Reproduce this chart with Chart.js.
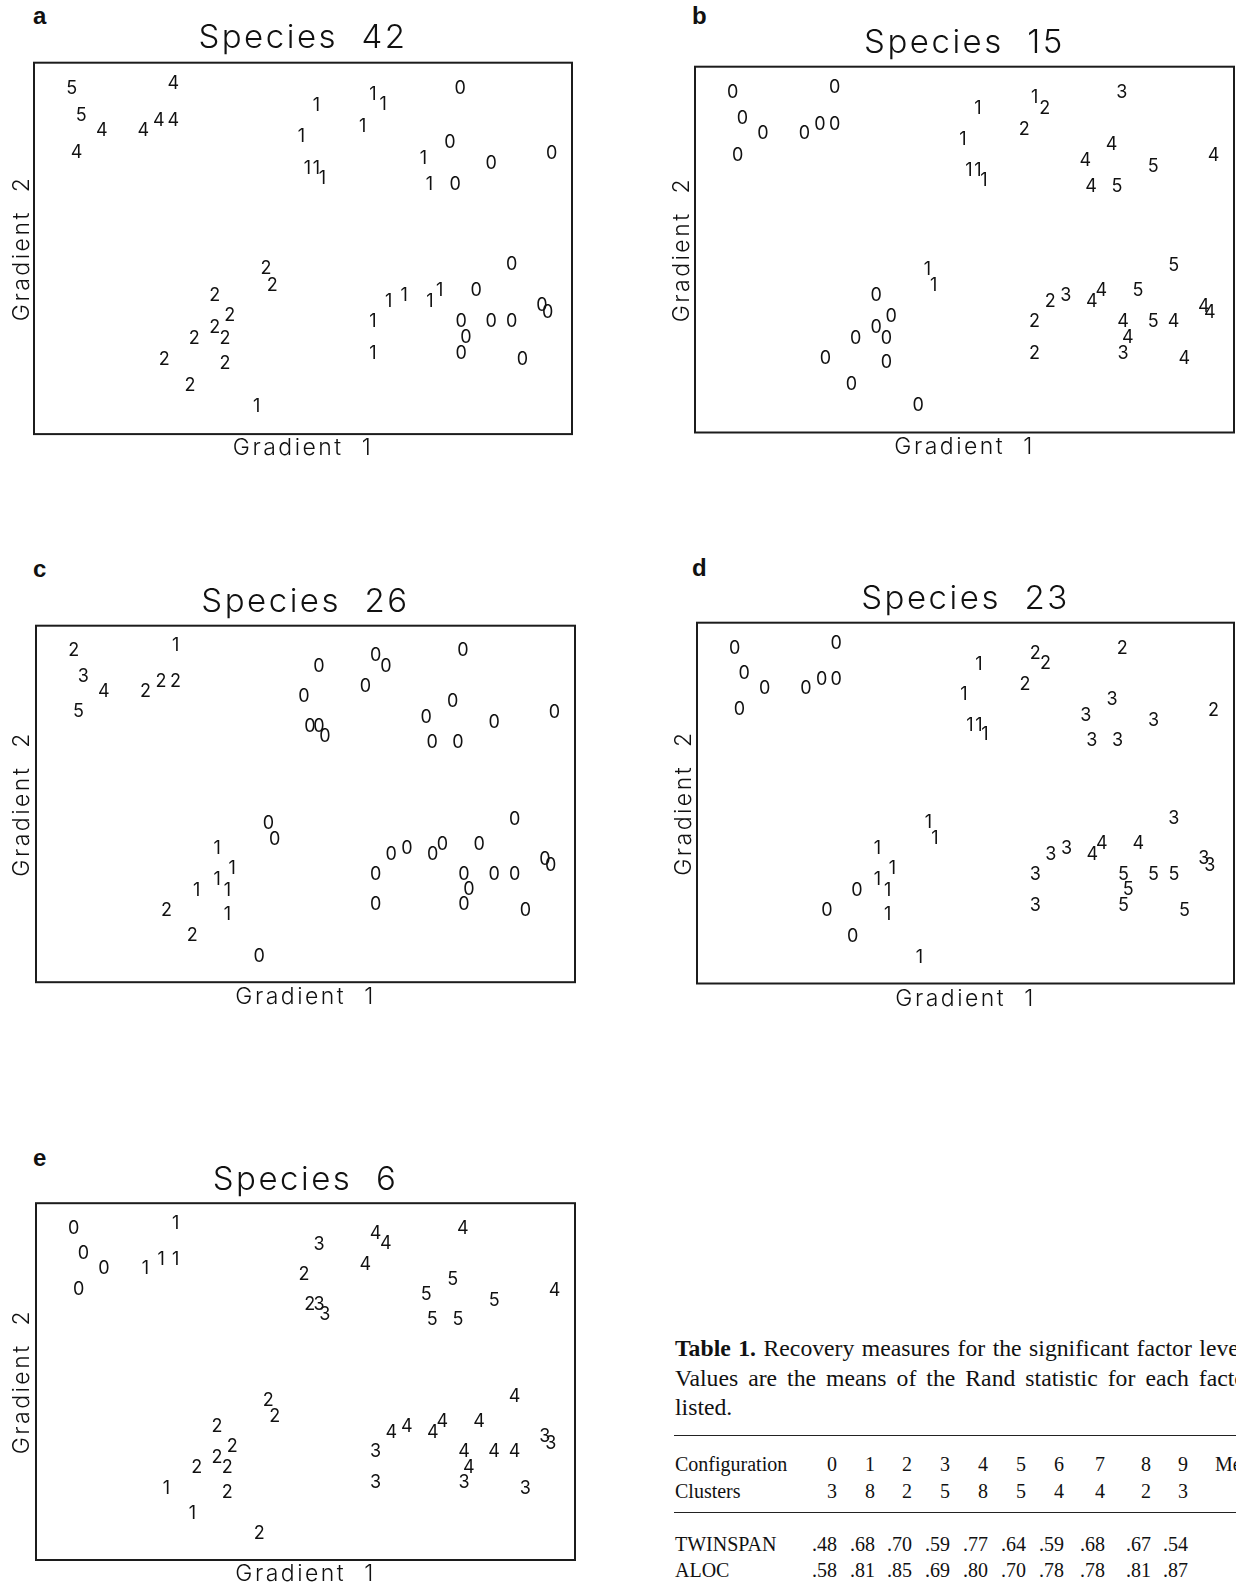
<!DOCTYPE html>
<html>
<head>
<meta charset="utf-8">
<script src="https://cdn.jsdelivr.net/npm/chart.js@4.4.1/dist/chart.umd.min.js"></script>
<style>
  html, body { margin: 0; padding: 0; width: 1236px; height: 1588px; overflow: hidden; background: #fff; }
  .panel { position: absolute; }
  .tag { position: absolute; font: bold 24px "Liberation Sans", Arial, sans-serif; line-height: 24px; color: #111; }
  .cap { position: absolute; left: 675px; white-space: nowrap; font: 23.7px "Liberation Serif", "Times New Roman", serif; line-height: 24px; color: #111; }
  .cell { position: absolute; white-space: nowrap; font: 20px "Liberation Serif", "Times New Roman", serif; line-height: 22px; color: #111; }
  .rule { position: absolute; left: 674px; width: 620px; height: 0; border-top: 1.6px solid #222; }
</style>
</head>
<body>

<div class="tag" style="left:33px; top:4px">a</div>
<div class="tag" style="left:692px; top:4px">b</div>
<div class="tag" style="left:33px; top:557px">c</div>
<div class="tag" style="left:692px; top:556px">d</div>
<div class="tag" style="left:33px; top:1146px">e</div>

<div id="wrapA" class="panel"><canvas id="chartA"></canvas></div>
<div id="wrapB" class="panel"><canvas id="chartB"></canvas></div>
<div id="wrapC" class="panel"><canvas id="chartC"></canvas></div>
<div id="wrapD" class="panel"><canvas id="chartD"></canvas></div>
<div id="wrapE" class="panel"><canvas id="chartE"></canvas></div>

<div class="cap" style="top:1336px; word-spacing:1.6px"><b>Table 1.</b> Recovery measures for the significant factor levels.</div>
<div class="cap" style="top:1366px; word-spacing:4.1px">Values are the means of the Rand statistic for each factor</div>
<div class="cap" style="top:1395px">listed.</div>
<div class="rule" style="top:1435px"></div>
<div class="rule" style="top:1512px"></div>
<div id="table"></div>

<script>
// site positions on the two gradients (same configuration in every panel)
const siteX = [7.0, 8.8, 12.6, 7.9, 25.9, 20.3, 23.2, 25.9,
  52.5, 49.7, 50.8, 52.5, 53.6, 61.1, 63.0, 64.9,
  79.2, 77.3, 72.4, 85.0, 96.2, 73.5, 78.3,
  43.1, 44.3, 33.6, 36.4, 33.6, 35.5, 29.8, 24.2, 35.5, 29.0, 41.4,
  65.9, 68.8, 73.6, 75.4, 82.2, 88.8, 94.4, 95.5, 63.0, 79.4, 80.3, 85.0, 88.8, 63.0, 79.4, 90.8];
const siteY = [92.9, 85.8, 81.6, 75.8, 94.3, 81.6, 84.3, 84.3,
  88.5, 80.1, 71.6, 71.6, 68.9, 82.8, 91.5, 88.6,
  92.9, 78.6, 74.3, 72.8, 75.6, 67.3, 67.3,
  44.6, 40.1, 37.4, 31.8, 28.8, 25.8, 25.8, 20.1, 19.0, 13.0, 7.3,
  35.8, 37.4, 35.8, 38.7, 38.7, 45.7, 34.5, 32.7, 30.3, 30.3, 26.0, 30.3, 30.3, 21.7, 21.7, 20.1];

// abundance class of each species at each site
const species42 = [5,5,4,4,4,4,4,4, 1,1,1,1,1,1,1,1, 0,0,1,0,0,1,0,
  2,2,2,2,2,2,2,2,2,2,1, 1,1,1,1,0,0,0,0,1,0,0,0,0,1,0,0];
const species15 = [0,0,0,0,0,0,0,0, 1,1,1,1,1,2,1,2, 3,4,4,5,4,4,5,
  1,1,0,0,0,0,0,0,0,0,0, 2,3,4,4,5,5,4,4,2,4,4,5,4,2,3,4];
const species26 = [2,3,4,5,1,2,2,2, 0,0,0,0,0,0,0,0, 0,0,0,0,0,0,0,
  0,0,1,1,1,1,1,2,1,2,0, 0,0,0,0,0,0,0,0,0,0,0,0,0,0,0,0];
const species23 = [0,0,0,0,0,0,0,0, 1,1,1,1,1,2,2,2, 2,3,3,3,2,3,3,
  1,1,1,1,1,1,0,0,1,0,1, 3,3,4,4,4,3,3,3,3,5,5,5,5,3,5,5];
const species6 = [0,0,0,0,1,1,1,1, 3,2,2,3,3,4,4,4, 4,5,5,5,4,5,5,
  2,2,2,2,2,2,2,1,2,1,2, 4,4,4,4,4,4,3,3,3,4,4,4,4,3,3,3];

// table 1
const rowNames = ['Configuration', 'Clusters', 'TWINSPAN', 'ALOC'];
const configs = ['0','1','2','3','4','5','6','7','8','9'];
const clusters = ['3','8','2','5','8','5','4','4','2','3'];
const twinspan = ['.48','.68','.70','.59','.77','.64','.59','.68','.67','.54'];
const aloc = ['.58','.81','.85','.69','.80','.70','.78','.78','.81','.87'];

const FONT = 'Inter, "Liberation Sans", sans-serif';

const boxPlugin = {
  id: 'frame',
  beforeDraw(chart) { chart.ctx.letterSpacing = '2.5px'; },
  afterDatasetsDraw(chart) {
    const ctx = chart.ctx;
    const a = chart.chartArea;
    const meta = chart.getDatasetMeta(0);
    const labels = chart.data.datasets[0].siteLabels;
    ctx.save();
    ctx.letterSpacing = '0px';
    ctx.strokeStyle = '#1c1c1c';
    ctx.lineWidth = 2;
    ctx.strokeRect(a.left, a.top, a.right - a.left, a.bottom - a.top);
    ctx.font = '18px ' + FONT;
    ctx.fillStyle = '#111';
    ctx.textAlign = 'center';
    ctx.textBaseline = 'middle';
    meta.data.forEach((pt, i) => ctx.fillText(String(labels[i]), pt.x, pt.y));
    ctx.restore();
  },
  afterDraw(chart) { chart.ctx.letterSpacing = '0px'; }
};

function hiddenAxis(extra) {
  return Object.assign({
    min: 0, max: 100,
    ticks: { display: false },
    grid: { display: false, drawTicks: false },
    border: { display: false }
  }, extra);
}

function makePanel(wrapId, canvasId, name, labels, p) {
  const cl = p.L - 36, ct = p.titleY - 30;
  const W = Math.round(p.R - cl + 3), H = Math.round(p.xTitleY + 16 - ct);
  const wrap = document.getElementById(wrapId);
  wrap.style.left = cl + 'px';
  wrap.style.top = ct + 'px';
  const cv = document.getElementById(canvasId);
  cv.width = W; cv.height = H;
  cv.style.width = W + 'px'; cv.style.height = H + 'px';

  const tTop = p.titleY - ct - 19.2;
  const tBot = Math.max(0, p.T - ct - tTop - 38.4);
  const xTop = Math.max(0, p.xTitleY - p.B - 11.5);
  const xBot = Math.max(0, H - 2 - (p.B - ct) - 23 - xTop);
  const yTop = Math.max(0, p.yTitleX - cl - 11.5);
  const yBot = Math.max(0, 36 - 23 - yTop);

  new Chart(cv, {
    type: 'scatter',
    data: {
      datasets: [{
        data: siteX.map((x, i) => ({ x: x, y: siteY[i] })),
        siteLabels: labels,
        pointRadius: 0,
        pointHoverRadius: 0
      }]
    },
    options: {
      responsive: false,
      animation: false,
      events: [],
      layout: { padding: { left: 0, top: 0, right: 3, bottom: 2 } },
      plugins: {
        legend: { display: false },
        tooltip: { enabled: false },
        title: { display: false }
      },
      scales: {
        x: hiddenAxis({
          position: 'bottom',
          title: {
            display: true, text: 'Gradient  1', color: '#111',
            font: { family: FONT, size: 23, weight: 300, lineHeight: 1 },
            padding: { top: xTop, bottom: xBot }
          }
        }),
        top: hiddenAxis({
          position: 'top',
          title: {
            display: true, text: name, color: '#111',
            font: { family: FONT, size: 33, weight: 300, lineHeight: 1.2 },
            padding: { top: tTop, bottom: tBot }
          }
        }),
        y: hiddenAxis({
          position: 'left',
          title: {
            display: true, text: 'Gradient  2', color: '#111',
            font: { family: FONT, size: 23, weight: 300, lineHeight: 1 },
            padding: { top: yTop, bottom: yBot }
          }
        })
      }
    },
    plugins: [boxPlugin]
  });
}

makePanel('wrapA', 'chartA', 'Species  42', species42,
  { L: 34.4, T: 61, R: 572.4, B: 433.6, titleY: 36.5, xTitleY: 448, yTitleX: 22 });
makePanel('wrapB', 'chartB', 'Species  15', species15,
  { L: 695, T: 65, R: 1234, B: 432, titleY: 41.5, xTitleY: 447, yTitleX: 682 });
makePanel('wrapC', 'chartC', 'Species  26', species26,
  { L: 35.5, T: 624, R: 574.4, B: 981.7, titleY: 600.5, xTitleY: 997, yTitleX: 22 });
makePanel('wrapD', 'chartD', 'Species  23', species23,
  { L: 697, T: 621, R: 1234, B: 983, titleY: 597.5, xTitleY: 999, yTitleX: 684 });
makePanel('wrapE', 'chartE', 'Species  6', species6,
  { L: 35.5, T: 1202, R: 574.4, B: 1560, titleY: 1179, xTitleY: 1574, yTitleX: 22 });

// table cells
const table = document.getElementById('table');
const rowY = [1464, 1491, 1543.5, 1570];
const colRight = [837, 875, 912, 950, 988, 1026, 1064, 1105, 1151, 1188];
function cell(text, left, cy, align, width) {
  const d = document.createElement('div');
  d.className = 'cell';
  d.textContent = text;
  d.style.top = (cy - 11) + 'px';
  d.style.left = left + 'px';
  if (width) { d.style.width = width + 'px'; d.style.textAlign = align; }
  table.appendChild(d);
}
[configs, clusters, twinspan, aloc].forEach((row, r) => {
  cell(rowNames[r], 675, rowY[r]);
  row.forEach((v, c) => cell(v, colRight[c] - 40, rowY[r], 'right', 40));
});
cell('Mean', 1215, rowY[0]);
</script>
</body>
</html>
